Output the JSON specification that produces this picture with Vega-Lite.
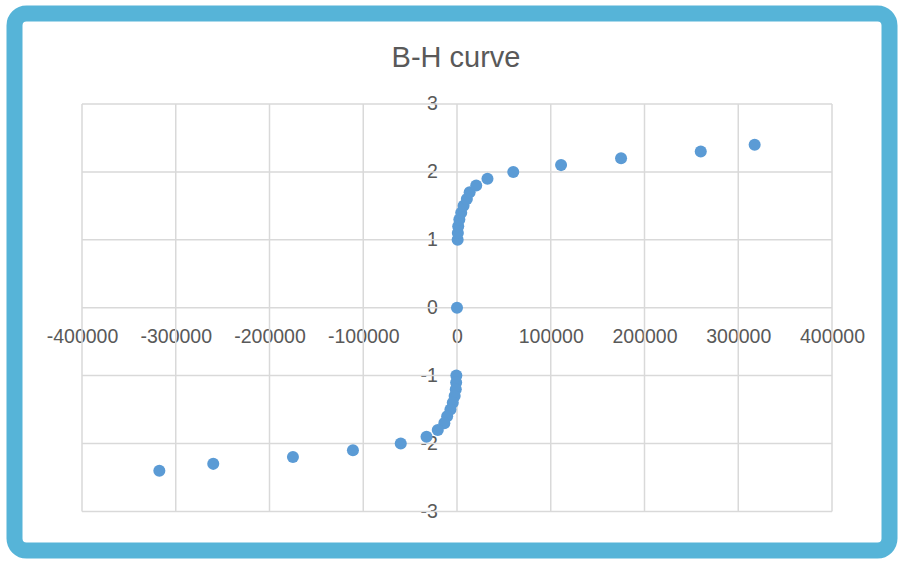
{
  "$schema": "https://vega.github.io/schema/vega-lite/v6.json",
  "width": 875,
  "height": 537,
  "autosize": {"type": "none"},
  "padding": {"left": 14.5, "top": 13.5, "right": 11.5, "bottom": 15.5},
  "background": "white",
  "title": {
    "text": "B-H curve",
    "orient": "top",
    "anchor": "middle",
    "frame": "group",
    "offset": -82,
    "baseline": "alphabetic",
    "font": "Liberation Sans",
    "fontSize": 29,
    "fontWeight": "normal",
    "color": "#595959",
    "dx": 4
  },
  "config": {
    "view": {"stroke": "#56B4D8", "strokeWidth": 16, "cornerRadius": 12, "fill": "white"}
  },
  "datasets": {
    "grid": [
      {"gx": -400000, "gx2": -400000, "gy": -3, "gy2": 3},
      {"gx": -300000, "gx2": -300000, "gy": -3, "gy2": 3},
      {"gx": -200000, "gx2": -200000, "gy": -3, "gy2": 3},
      {"gx": -100000, "gx2": -100000, "gy": -3, "gy2": 3},
      {"gx": 0, "gx2": 0, "gy": -3, "gy2": 3},
      {"gx": 100000, "gx2": 100000, "gy": -3, "gy2": 3},
      {"gx": 200000, "gx2": 200000, "gy": -3, "gy2": 3},
      {"gx": 300000, "gx2": 300000, "gy": -3, "gy2": 3},
      {"gx": 400000, "gx2": 400000, "gy": -3, "gy2": 3},
      {"gx": -400000, "gx2": 400000, "gy": -3, "gy2": -3},
      {"gx": -400000, "gx2": 400000, "gy": -2, "gy2": -2},
      {"gx": -400000, "gx2": 400000, "gy": -1, "gy2": -1},
      {"gx": -400000, "gx2": 400000, "gy": 0, "gy2": 0},
      {"gx": -400000, "gx2": 400000, "gy": 1, "gy2": 1},
      {"gx": -400000, "gx2": 400000, "gy": 2, "gy2": 2},
      {"gx": -400000, "gx2": 400000, "gy": 3, "gy2": 3}
    ],
    "bh": [
      {"H": 0, "B": 0},
      {"H": 700, "B": 1.0},
      {"H": 900, "B": 1.1},
      {"H": 1300, "B": 1.2},
      {"H": 2500, "B": 1.3},
      {"H": 4500, "B": 1.4},
      {"H": 7000, "B": 1.5},
      {"H": 10500, "B": 1.6},
      {"H": 13500, "B": 1.7},
      {"H": 20500, "B": 1.8},
      {"H": 32500, "B": 1.9},
      {"H": 60000, "B": 2.0},
      {"H": 111000, "B": 2.1},
      {"H": 175000, "B": 2.2},
      {"H": 260000, "B": 2.3},
      {"H": 317500, "B": 2.4},
      {"H": -700, "B": -1.0},
      {"H": -900, "B": -1.1},
      {"H": -1300, "B": -1.2},
      {"H": -2500, "B": -1.3},
      {"H": -4500, "B": -1.4},
      {"H": -7000, "B": -1.5},
      {"H": -10500, "B": -1.6},
      {"H": -13500, "B": -1.7},
      {"H": -20500, "B": -1.8},
      {"H": -32500, "B": -1.9},
      {"H": -60000, "B": -2.0},
      {"H": -111000, "B": -2.1},
      {"H": -175000, "B": -2.2},
      {"H": -260000, "B": -2.3},
      {"H": -317500, "B": -2.4}
    ]
  },
  "layer": [
    {
      "data": {"name": "grid"},
      "mark": {"type": "rule", "color": "#D9D9D9", "strokeWidth": 1.5},
      "encoding": {
        "x": {
          "field": "gx", "type": "quantitative",
          "scale": {"domain": [-472000, 461333], "nice": false, "zero": false},
          "axis": {
            "orient": "bottom", "offset": -242.8, "values": [-400000, -300000, -200000, -100000, 0, 100000, 200000, 300000, 400000],
            "labelExpr": "toString(datum.value)", "grid": false, "domain": false, "ticks": false, "title": null,
            "labelPadding": 20, "labelFont": "Liberation Sans", "labelFontSize": 19.5, "labelColor": "#595959", "labelFlush": false, "labelOverlap": false
          }
        },
        "x2": {"field": "gx2"},
        "y": {
          "field": "gy", "type": "quantitative",
          "scale": {"domain": [-3.5759, 4.3328], "nice": false, "zero": false},
          "axis": {
            "orient": "left", "offset": -442.8, "values": [-3, -2, -1, 0, 1, 2, 3],
            "labelExpr": "toString(datum.value)", "grid": false, "domain": false, "ticks": false, "title": null,
            "labelPadding": 20, "labelFont": "Liberation Sans", "labelFontSize": 19.5, "labelColor": "#595959", "labelFlush": false, "labelOverlap": false
          }
        },
        "y2": {"field": "gy2"}
      }
    },
    {
      "data": {"name": "bh"},
      "mark": {"type": "point", "filled": true, "size": 145, "color": "#5B9BD5", "opacity": 1},
      "encoding": {
        "x": {"field": "H", "type": "quantitative", "title": null},
        "y": {"field": "B", "type": "quantitative", "title": null}
      }
    }
  ]
}
